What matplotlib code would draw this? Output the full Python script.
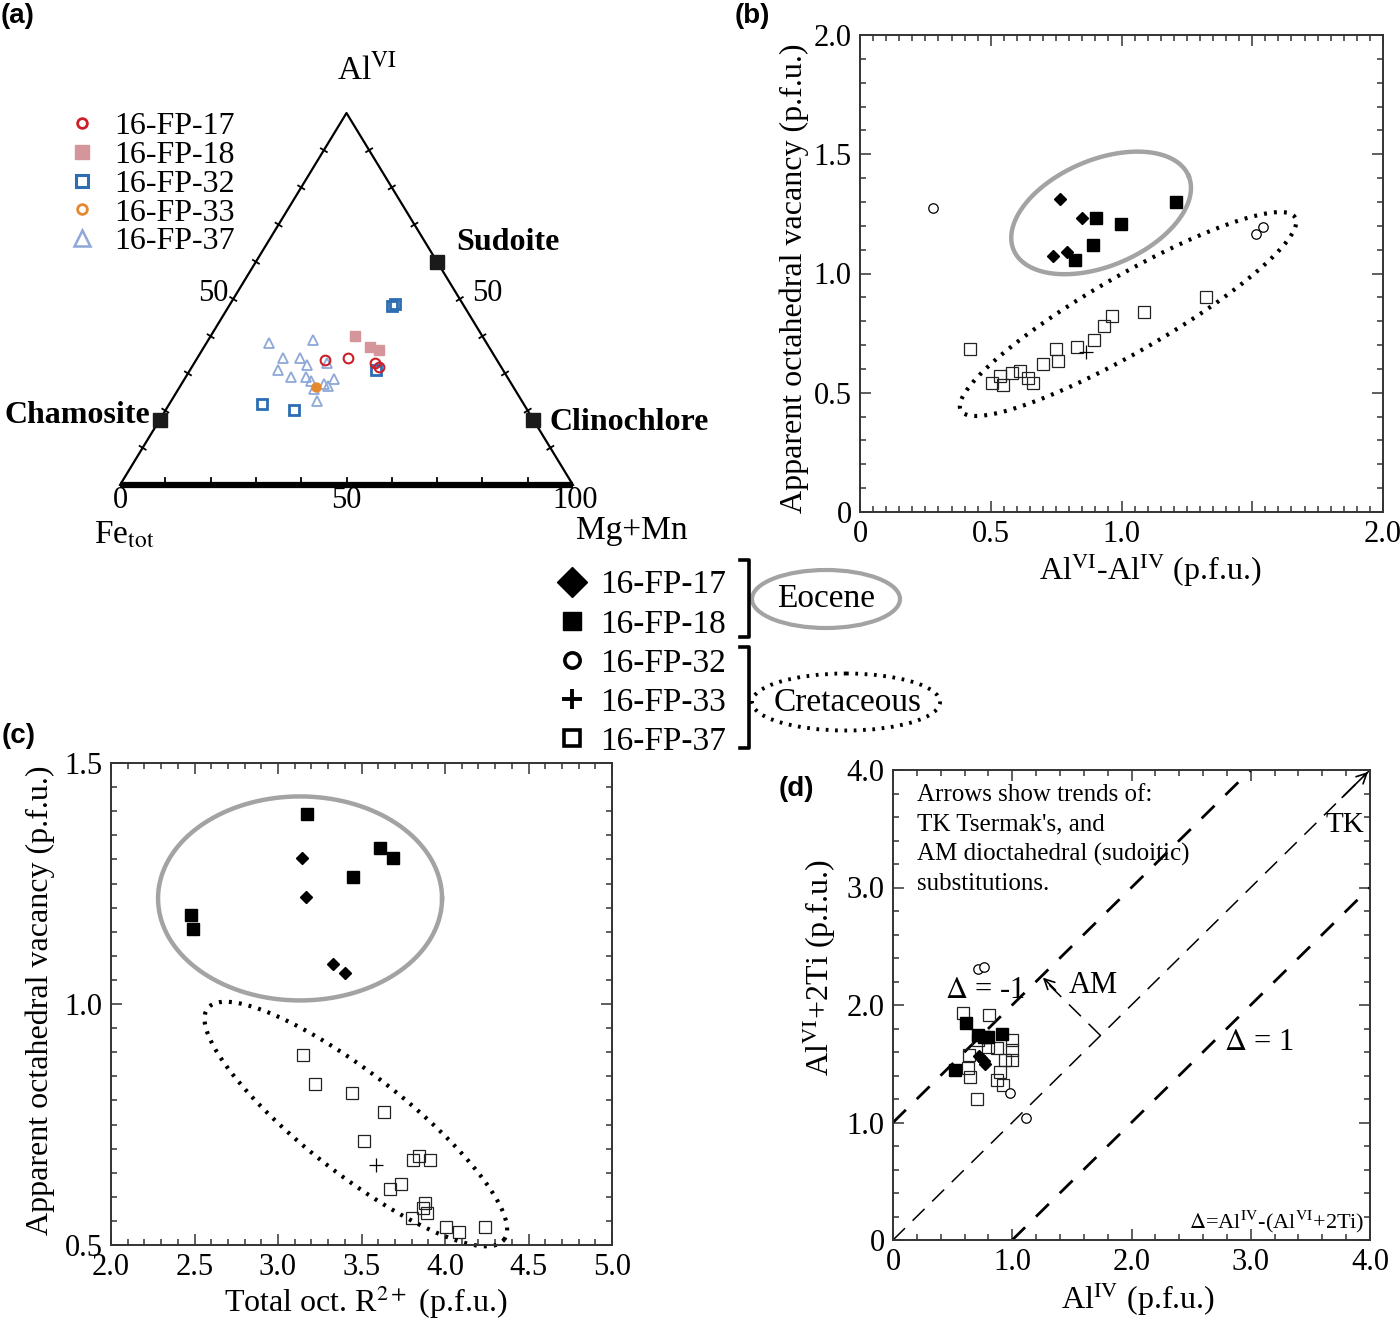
import numpy as np
import matplotlib
matplotlib.use('Agg')
import matplotlib.pyplot as plt
from matplotlib.lines import Line2D
from matplotlib.patches import Ellipse
from matplotlib.ticker import MultipleLocator, FixedLocator, FixedFormatter

plt.rcParams['font.family'] = ['Liberation Serif', 'DejaVu Serif']
plt.rcParams['mathtext.fontset'] = 'stix'

# ---------------- data ----------------
samples = ['16-FP-17', '16-FP-18', '16-FP-32', '16-FP-33', '16-FP-37']

# (a) ternary: Mg+Mn (%) and AlVI (%) ; Fe_tot = 100 - others
a17_mg = [28.5, 33.2, 39.9, 41.4]
a17_al = [33.6, 34.2, 32.9, 31.6]
a18_mg = [31.8, 36.6, 39.1]
a18_al = [40.1, 37.2, 36.3]
a32_mg = [36.1, 36.4, 41.1, 20.5, 28.3]
a32_al = [48.1, 48.7, 30.9, 21.8, 20.2]
a33_mg = [30.1]
a33_al = [26.3]
a37_mg = [13.9, 23.2, 18.9, 22.6, 25.1, 19.4, 29.3, 23.2, 26.5, 28.2, 31.5, 33.1, 30.0, 32.6, 32.1]
a37_al = [38.1, 39.0, 34.1, 34.2, 32.3, 30.9, 32.7, 29.0, 29.1, 28.0, 27.2, 28.5, 25.8, 26.6, 22.7]
end_names = ['Chamosite', 'Sudoite', 'Clinochlore']
end_mg = [0.0, 40.0, 82.5]
end_al = [17.5, 60.0, 17.5]

# (b) AlVI-AlIV vs apparent octahedral vacancy
b17_x = [0.765, 0.849, 0.738, 0.791]
b17_y = [1.312, 1.233, 1.073, 1.090]
b18_x = [0.902, 0.998, 1.208, 0.891, 0.822]
b18_y = [1.233, 1.208, 1.300, 1.120, 1.057]
b32_x = [0.279, 1.514, 1.541]
b32_y = [1.275, 1.166, 1.195]
b33_x = [0.864]
b33_y = [0.671]
b37_x = [0.421, 0.535, 0.505, 0.547, 0.581, 0.612, 0.642, 0.662, 0.700, 0.750, 0.757,
         0.830, 0.895, 0.933, 0.964, 1.086, 1.323]
b37_y = [0.683, 0.570, 0.541, 0.532, 0.583, 0.591, 0.562, 0.541, 0.621, 0.683, 0.633,
         0.692, 0.721, 0.780, 0.822, 0.839, 0.901]

# (c) total oct. R2+ vs apparent octahedral vacancy
c17_x = [3.146, 3.170, 3.329, 3.401]
c17_y = [1.303, 1.223, 1.084, 1.064]
c18_x = [3.172, 3.611, 3.690, 3.447, 2.477, 2.489]
c18_y = [1.394, 1.323, 1.303, 1.263, 1.184, 1.155]
c33_x = [3.585]
c33_y = [0.665]
c37_x = [3.148, 3.220, 3.445, 3.637, 3.515, 3.810, 3.844, 3.912, 3.669, 3.737, 3.880,
         3.870, 3.890, 3.801, 4.004, 4.084, 4.240]
c37_y = [0.895, 0.835, 0.815, 0.775, 0.716, 0.676, 0.685, 0.676, 0.616, 0.626, 0.587,
         0.576, 0.567, 0.555, 0.538, 0.527, 0.538]

# (d) AlIV vs AlVI+2Ti
d17_x = [0.72, 0.74, 0.76, 0.77]
d17_y = [1.57, 1.55, 1.52, 1.50]
d18_x = [0.612, 0.715, 0.760, 0.799, 0.912, 0.520]
d18_y = [1.849, 1.745, 1.730, 1.730, 1.753, 1.447]
d32_x = [0.715, 0.766, 0.981, 1.113]
d32_y = [2.304, 2.321, 1.254, 1.036]
d37_x = [0.584, 0.808, 0.995, 0.640, 0.870, 0.995, 0.939, 0.995, 0.631, 0.646, 0.897,
         0.870, 0.920, 0.707, 0.710, 0.797]
d37_y = [1.934, 1.915, 1.702, 1.574, 1.631, 1.617, 1.532, 1.532, 1.461, 1.390, 1.432,
         1.362, 1.319, 1.197, 1.702, 1.645]
delta_offsets = [-1, 0, 1]

# ---------------- figure ----------------
W, H = 1400, 1321
fig = plt.figure(figsize=(W / 100, H / 100), dpi=100)


def add_ax(l, t, r, b):
    return fig.add_axes([l / W, 1 - b / H, (r - l) / W, (b - t) / H])


def px_scale(ax):
    pos = ax.get_position()
    x0, x1 = ax.get_xlim()
    y0, y1 = ax.get_ylim()
    return pos.width * W / (x1 - x0), pos.height * H / (y1 - y0)


def ellipse_px(ax, cx, cy, a, b, ang, **kw):
    sx, sy = px_scale(ax)
    t = np.linspace(0, 2 * np.pi, 721)
    th = np.deg2rad(ang)
    dx = a * np.cos(t) * np.cos(th) - b * np.sin(t) * np.sin(th)
    dy = a * np.cos(t) * np.sin(th) + b * np.sin(t) * np.cos(th)
    ax.plot(cx + dx / sx, cy + dy / sy, clip_on=False, **kw)


GRAY = '#a3a3a3'
DOT = dict(color='black', lw=3.0, linestyle=(0, (0.7, 1.7)))
SOLID = dict(color=GRAY, lw=3.2)
TICKFS = 22
LABFS = 23

sty17 = dict(ls='none', marker='D', ms=6.3, color='black')
sty18 = dict(ls='none', marker='s', ms=8.8, color='black')
sty32 = dict(ls='none', marker='o', ms=6.8, mfc='white', mec='black', mew=0.9)
sty33 = dict(ls='none', marker='+', ms=10, color='black', mew=0.9)
sty37 = dict(ls='none', marker='s', ms=8.6, mfc='none', mec='#222222', mew=0.9)


def style_axes(ax):
    for s in ax.spines.values():
        s.set_linewidth(1.4)
        s.set_color('#333333')
    ax.tick_params(which='both', direction='in', top=True, right=True,
                   labelsize=TICKFS, color='#333333', width=1.1)
    ax.tick_params(which='major', length=8, pad=6)
    ax.tick_params(which='minor', length=4)


# ---------------- (a) ternary ----------------
axa = add_ax(120, 113, 573, 485)
axa.set_xlim(0, 100)
axa.set_ylim(0, 100)
axa.axis('off')


def tern(mg, al):
    mg = np.asarray(mg, float)
    al = np.asarray(al, float)
    return mg + al / 2, al


axa.plot([0, 50, 100], [0, 100, 0], color='black', lw=1.6, clip_on=False)
axa.plot([0, 100], [0, 0], color='black', lw=4.5, clip_on=False, solid_capstyle='butt')
sx, sy = px_scale(axa)
for f in np.arange(0.1, 1.0, 0.1):
    for (p0, p1) in [((0, 0), (50, 100)), ((100, 0), (50, 100))]:
        px = p0[0] + (p1[0] - p0[0]) * f
        py = p0[1] + (p1[1] - p0[1]) * f
        ex, ey = (p1[0] - p0[0]) * sx, (p1[1] - p0[1]) * sy
        n = np.hypot(ex, ey)
        nx, ny = -ey / n, ex / n
        L = 3.5
        axa.plot([px - L * nx / sx, px + L * nx / sx], [py - L * ny / sy, py + L * ny / sy],
                 color='black', lw=1.3, clip_on=False)
    axa.plot([100 * f, 100 * f], [0, 7 / sy], color='black', lw=1.3, clip_on=False)

tcol = ['#cc1f2a', '#d4969a', '#2c6db3', '#e6882d', '#8ea8d8']
u, v = tern(a37_mg, a37_al)
axa.plot(u, v, ls='none', marker='^', ms=7.5, mfc='none', mec=tcol[4], mew=1.3, clip_on=False)
u, v = tern(a33_mg, a33_al)
axa.plot(u, v, ls='none', marker='o', ms=6.5, color=tcol[3], clip_on=False)
u, v = tern(a18_mg, a18_al)
axa.plot(u, v, ls='none', marker='s', ms=7, color=tcol[1], clip_on=False)
u, v = tern(a32_mg, a32_al)
axa.plot(u, v, ls='none', marker='s', ms=6.5, mfc='none', mec=tcol[2], mew=2.0, clip_on=False)
u, v = tern(a17_mg, a17_al)
axa.plot(u, v, ls='none', marker='o', ms=7, mfc='none', mec=tcol[0], mew=1.5, clip_on=False)
u, v = tern(end_mg, end_al)
axa.plot(u, v, ls='none', marker='s', ms=9.5, color='#1a1a1a', clip_on=False)

axa.text(6.6, 18.8, end_names[0], ha='right', va='center', fontsize=23, fontweight='bold')
axa.text(74.2, 65.3, end_names[1], ha='left', va='center', fontsize=23, fontweight='bold')
axa.text(94.9, 16.9, end_names[2], ha='left', va='center', fontsize=23, fontweight='bold')
axa.text(0, -4.2, '0', ha='center', va='center', fontsize=TICKFS)
axa.text(50, -4.2, '50', ha='center', va='center', fontsize=TICKFS)
axa.text(100.5, -4.2, '100', ha='center', va='center', fontsize=TICKFS)
axa.text(20.5, 51.6, '50', ha='center', va='center', fontsize=TICKFS)
axa.text(81.0, 51.6, '50', ha='center', va='center', fontsize=TICKFS)
axa.text(54.5, 111.5, r'Al$^{\mathrm{VI}}$', ha='center', va='center', fontsize=24)
axa.text(1.0, -13.5, r'Fe$_{\mathrm{tot}}$', ha='center', va='center', fontsize=24)
axa.text(113.0, -12.3, 'Mg+Mn', ha='center', va='center', fontsize=24)

ha_handles = [
    Line2D([], [], ls='none', marker='o', ms=7, mfc='none', mec=tcol[0], mew=2.0),
    Line2D([], [], ls='none', marker='s', ms=10, color=tcol[1]),
    Line2D([], [], ls='none', marker='s', ms=9, mfc='none', mec=tcol[2], mew=2.2),
    Line2D([], [], ls='none', marker='o', ms=7, mfc='none', mec=tcol[3], mew=2.0),
    Line2D([], [], ls='none', marker='^', ms=11, mfc='none', mec=tcol[4], mew=1.8),
]
fig.legend(ha_handles, samples, loc='upper left', bbox_to_anchor=(66 / W, 1 - 112 / H),
           frameon=False, fontsize=23, labelspacing=-0.02, handlelength=1.0,
           handletextpad=0.5, borderpad=0, borderaxespad=0)

# ---------------- (b) ----------------
axb = add_ax(860, 35, 1383, 512)
axb.set_xlim(0, 2.0)
axb.set_ylim(0, 2.0)
style_axes(axb)
axb.xaxis.set_major_locator(FixedLocator([0, 0.5, 1.0, 1.5, 2.0]))
axb.xaxis.set_major_formatter(FixedFormatter(['0', '0.5', '1.0', '', '2.0']))
axb.yaxis.set_major_locator(FixedLocator([0, 0.5, 1.0, 1.5, 2.0]))
axb.yaxis.set_major_formatter(FixedFormatter(['0', '0.5', '1.0', '1.5', '2.0']))
axb.xaxis.set_minor_locator(MultipleLocator(0.05))
axb.yaxis.set_minor_locator(MultipleLocator(0.1))
axb.plot(b37_x, b37_y, **sty37)
axb.plot(b33_x, b33_y, **sty33)
axb.plot(b32_x, b32_y, **sty32)
axb.plot(b18_x, b18_y, **sty18)
axb.plot(b17_x, b17_y, **sty17)
ellipse_px(axb, 0.922, 1.254, 95, 53, 23, **SOLID)
ellipse_px(axb, 1.025, 0.830, 193, 38, 30, **DOT)
axb.set_xlabel(r'Al$^{\mathrm{VI}}$-Al$^{\mathrm{IV}}$ (p.f.u.)', fontsize=LABFS)
axb.set_ylabel('Apparent octahedral vacancy (p.f.u.)', fontsize=LABFS)
axb.xaxis.set_label_coords(0.555, -0.082)
axb.yaxis.set_label_coords(-0.097, 0.49)

# ---------------- (c) ----------------
axc = add_ax(111, 763, 612, 1245)
axc.set_xlim(2.0, 5.0)
axc.set_ylim(0.5, 1.5)
style_axes(axc)
axc.xaxis.set_major_locator(MultipleLocator(0.5))
axc.xaxis.set_major_formatter(FixedFormatter(['', '2.0', '2.5', '3.0', '3.5', '4.0', '4.5', '5.0']))
axc.yaxis.set_major_locator(FixedLocator([0.5, 1.0, 1.5]))
axc.yaxis.set_major_formatter(FixedFormatter(['0.5', '1.0', '1.5']))
axc.xaxis.set_minor_locator(MultipleLocator(0.1))
axc.yaxis.set_minor_locator(MultipleLocator(0.05))
axc.plot(c37_x, c37_y, **sty37)
axc.plot(c33_x, c33_y, **sty33)
axc.plot(c18_x, c18_y, **sty18)
axc.plot(c17_x, c17_y, **sty17)
ellipse_px(axc, 3.132, 1.219, 142, 102, 0, **SOLID)
ellipse_px(axc, 3.466, 0.751, 188, 50, -38, **DOT)
axc.set_xlabel(r'Total oct. R$^{2+}$ (p.f.u.)', fontsize=LABFS)
axc.set_ylabel('Apparent octahedral vacancy (p.f.u.)', fontsize=LABFS)
axc.xaxis.set_label_coords(0.509, -0.079)
axc.yaxis.set_label_coords(-0.112, 0.508)

# ---------------- (d) ----------------
axd = add_ax(893, 770, 1370, 1240)
axd.set_xlim(0, 4.0)
axd.set_ylim(0, 4.0)
style_axes(axd)
axd.xaxis.set_major_locator(FixedLocator([0, 1, 2, 3, 4]))
axd.xaxis.set_major_formatter(FixedFormatter(['0', '1.0', '2.0', '3.0', '4.0']))
axd.yaxis.set_major_locator(FixedLocator([0, 1, 2, 3, 4]))
axd.yaxis.set_major_formatter(FixedFormatter(['0', '1.0', '2.0', '3.0', '4.0']))
axd.xaxis.set_minor_locator(MultipleLocator(0.2))
axd.yaxis.set_minor_locator(MultipleLocator(0.2))
for dlt in delta_offsets:
    xs = np.array([max(0, dlt), min(4, 4 + dlt)])
    ys = xs - dlt
    if dlt == 0:
        axd.plot(xs, ys, color='black', lw=1.1, linestyle=(0, (11, 7)))
    else:
        axd.plot(xs, ys, color='black', lw=2.0, linestyle=(0, (6.5, 5.5)))
axd.annotate('', xy=(4.0, 4.0), xytext=(3.75, 3.75),
             arrowprops=dict(arrowstyle='->', color='black', lw=1.2, mutation_scale=18),
             annotation_clip=False)
axd.plot([1.74, 1.30], [1.74, 2.18], color='black', lw=1.1, linestyle=(0, (11, 7)))
axd.annotate('', xy=(1.24, 2.25), xytext=(1.38, 2.11),
             arrowprops=dict(arrowstyle='->', color='black', lw=1.2, mutation_scale=18))
axd.plot(d37_x, d37_y, **sty37)
axd.plot(d32_x, d32_y, **sty32)
axd.plot(d18_x, d18_y, **sty18)
axd.plot(d17_x, d17_y, **sty17)
axd.text(0.2, 3.88, "Arrows show trends of:\nTK Tsermak's, and\nAM dioctahedral (sudoitic)\nsubstitutions.",
         ha='left', va='top', fontsize=18, linespacing=1.42)
axd.text(3.79, 3.53, 'TK', ha='center', va='center', fontsize=21)
axd.text(0.77, 2.12, r'$\Delta$ = -1', ha='center', va='center', fontsize=22)
axd.text(1.68, 2.17, 'AM', ha='center', va='center', fontsize=22)
axd.text(3.07, 1.68, r'$\Delta$ = 1', ha='center', va='center', fontsize=22)
axd.text(3.95, 0.15, r'$\Delta$=Al$^{\mathrm{IV}}$-(Al$^{\mathrm{VI}}$+2Ti)', ha='right',
         va='center', fontsize=16)
axd.set_xlabel(r'Al$^{\mathrm{IV}}$ (p.f.u.)', fontsize=LABFS)
axd.set_ylabel(r'Al$^{\mathrm{VI}}$+2Ti (p.f.u.)', fontsize=LABFS)
axd.xaxis.set_label_coords(0.514, -0.085)
axd.yaxis.set_label_coords(-0.115, 0.58)

# ---------------- shared legend ----------------
g_handles = [
    Line2D([], [], ls='none', marker='D', ms=15, color='black'),
    Line2D([], [], ls='none', marker='s', ms=12.5, color='black'),
    Line2D([], [], ls='none', marker='o', ms=11, mfc='white', mec='black', mew=2.6),
    Line2D([], [], ls='none', marker='+', ms=15, color='black', mew=2.8),
    Line2D([], [], ls='none', marker='s', ms=12, mfc='white', mec='black', mew=2.6),
]
fig.legend(g_handles, samples, loc='upper left', bbox_to_anchor=(555 / W, 1 - 570 / H),
           frameon=False, fontsize=24, labelspacing=0.26, handlelength=1.0,
           handletextpad=0.35, borderpad=0, borderaxespad=0)

ov = fig.add_axes([0, 0, 1, 1])
ov.set_xlim(0, W)
ov.set_ylim(H, 0)
ov.axis('off')
ov.patch.set_alpha(0)
ov.plot([740, 749, 749, 740], [560, 560, 637, 637], color='black', lw=2.6)
ov.plot([740, 749, 749, 740], [647, 647, 748, 748], color='black', lw=2.6)
ov.add_patch(Ellipse((826, 599), 148, 58, fill=False, ec=GRAY, lw=3.0))
ov.add_patch(Ellipse((846, 702), 188, 57, fill=False, ec='black', lw=2.8,
                     linestyle=(0, (0.7, 1.7))))
ov.text(826, 599, 'Eocene', ha='center', va='center', fontsize=24)
ov.text(848, 703, 'Cretaceous', ha='center', va='center', fontsize=24)

# panel labels
for lab, x, y in [('(a)', 1, 3), ('(b)', 735, 3), ('(c)', 2, 723), ('(d)', 779, 776)]:
    fig.text(x / W, 1 - y / H, lab, ha='left', va='top', fontsize=20, fontweight='bold',
             family=['Liberation Sans', 'DejaVu Sans'])

fig.savefig('out.png', dpi=100)
